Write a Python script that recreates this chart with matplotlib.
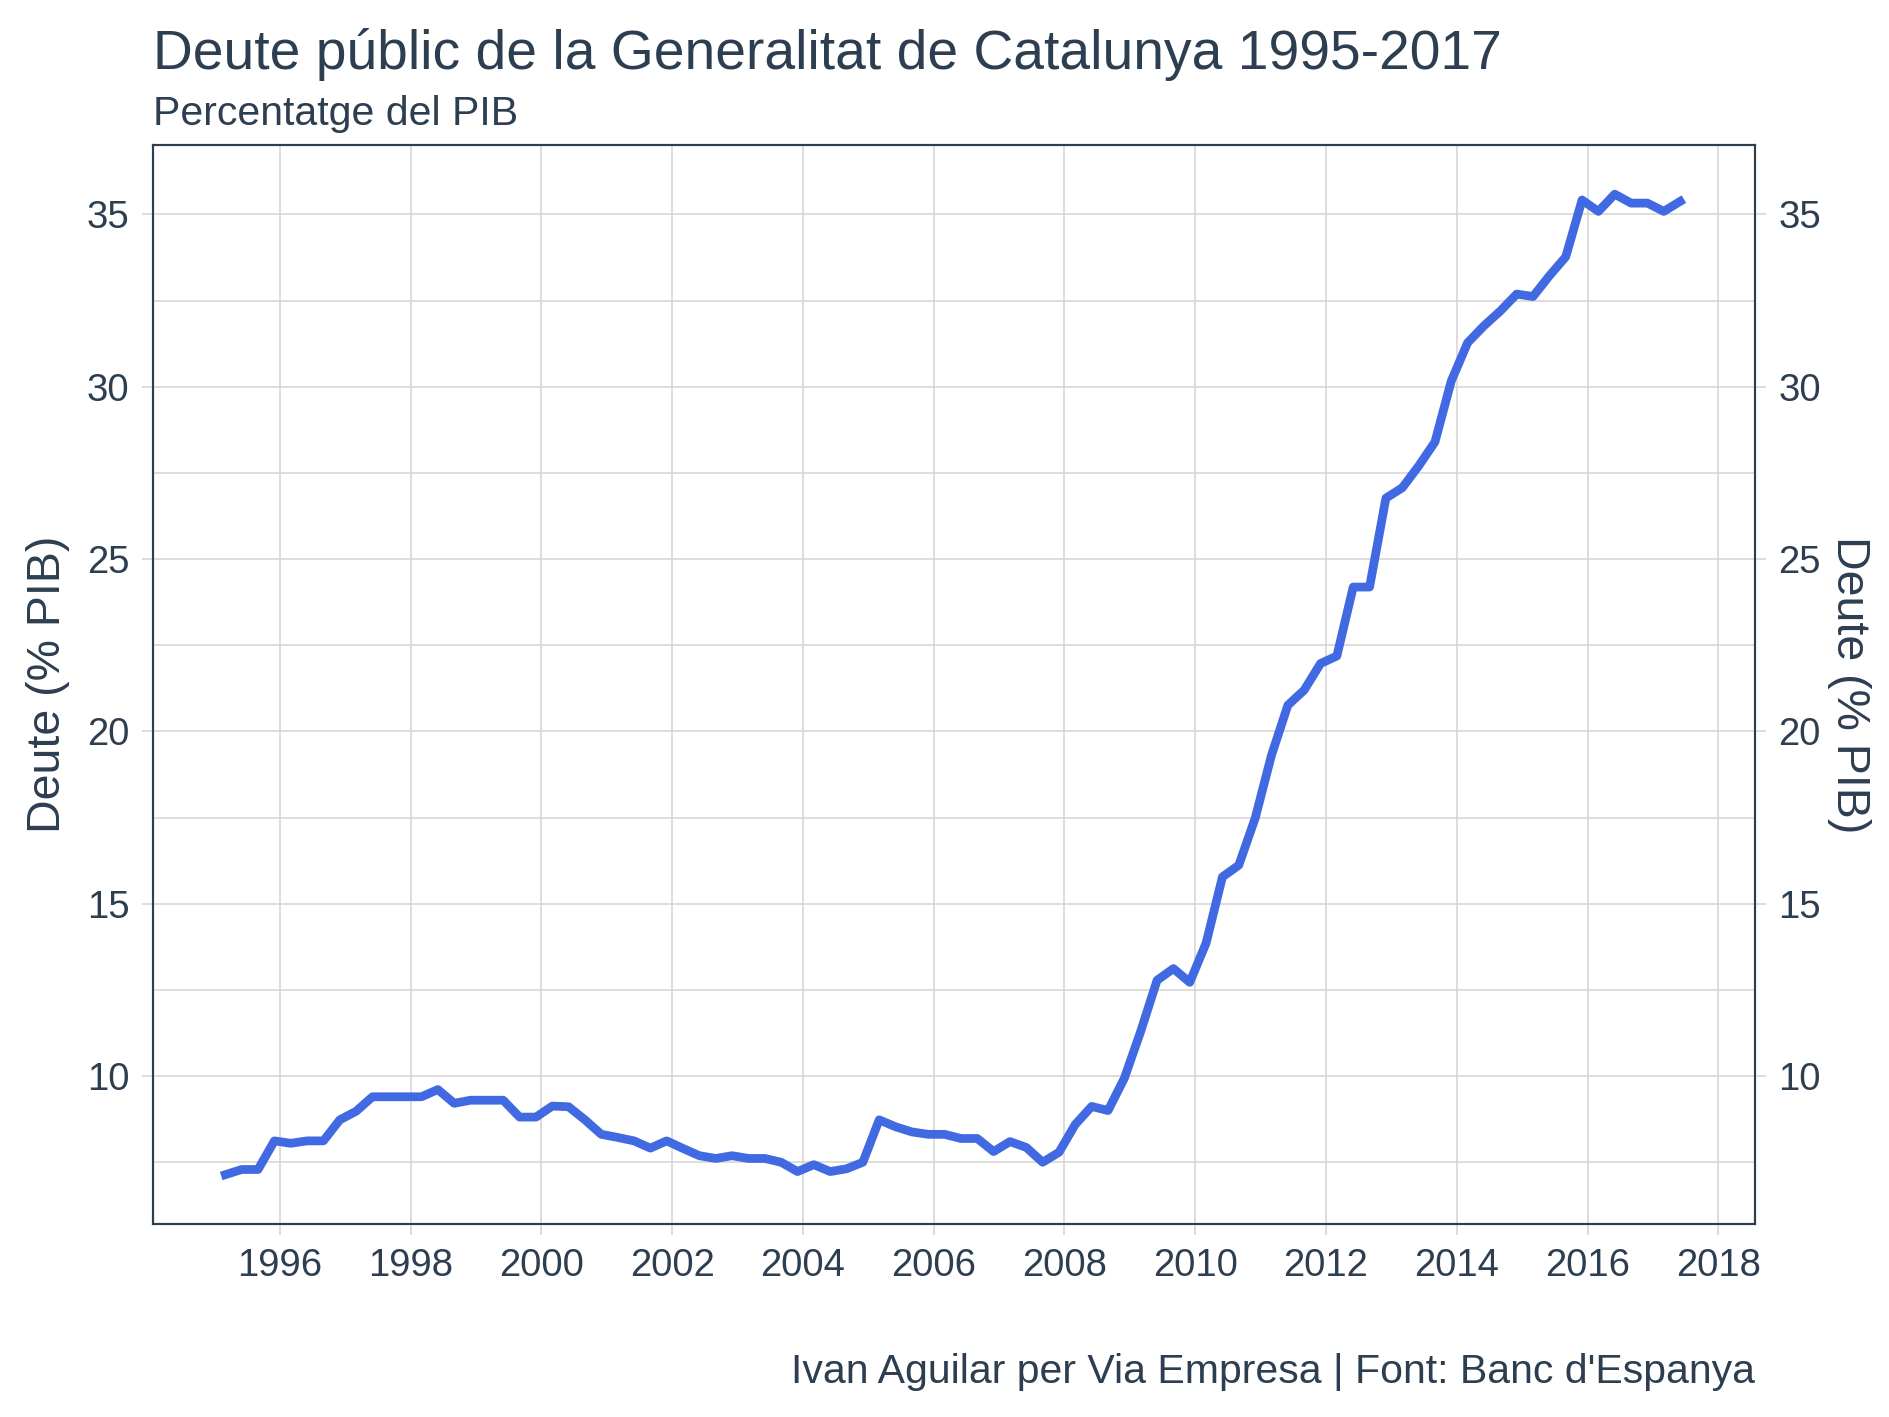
import matplotlib
matplotlib.use('Agg')
import matplotlib.pyplot as plt
import numpy as np

plt.rcParams['font.family'] = ['Liberation Sans', 'DejaVu Sans']

# Quarterly debt of the Generalitat, % of GDP, 1995Q1 - 2017Q2
years = list(range(1995, 2018))
deute = [
    7.14, 7.29, 7.29, 8.12,     # 1995
    8.05, 8.12, 8.12, 8.73,     # 1996
    8.98, 9.40, 9.40, 9.40,     # 1997
    9.40, 9.61, 9.21, 9.30,     # 1998
    9.30, 9.30, 8.81, 8.81,     # 1999
    9.13, 9.11, 8.73, 8.31,     # 2000
    8.22, 8.12, 7.91, 8.12,     # 2001
    7.90, 7.69, 7.61, 7.69,     # 2002
    7.61, 7.61, 7.50, 7.23,     # 2003
    7.43, 7.23, 7.31, 7.50,     # 2004
    8.73, 8.53, 8.38, 8.31,     # 2005
    8.31, 8.19, 8.19, 7.81,     # 2006
    8.10, 7.93, 7.50, 7.79,     # 2007
    8.60, 9.12, 9.00, 9.94,     # 2008
    11.3, 12.78, 13.12, 12.72,  # 2009
    13.86, 15.78, 16.12, 17.48, # 2010
    19.31, 20.76, 21.20, 21.97, # 2011
    22.19, 24.19, 24.19, 26.77, # 2012
    27.07, 27.70, 28.40, 30.17, # 2013
    31.28, 31.77, 32.20, 32.69, # 2014
    32.62, 33.22, 33.77, 35.42, # 2015
    35.09, 35.59, 35.33, 35.33, # 2016
    35.09, 35.38,               # 2017
]
# dates: first day of the last month of each quarter (Mar, Jun, Sep, Dec)
dates = [y + (q * 3 - 1) / 12 for y in years for q in range(1, 5)][:len(deute)]

x_ticks = list(range(1996, 2019, 2))
y_ticks = [10, 15, 20, 25, 30, 35]
y_minor = [7.5, 12.5, 17.5, 22.5, 27.5, 32.5]

txt = '#2C3E50'
grid = '#D3D3D3'

fig = plt.figure(figsize=(18.89, 14.17), dpi=100)
ax = fig.add_axes([0.081, 0.136, 0.848, 0.762])

ax.plot(dates, deute, color='royalblue', linewidth=6.3, solid_joinstyle='round')

ax.set_xlim(1994.06, 2018.56)
ax.set_ylim(5.70, 37.03)
ax.set_xticks(x_ticks)
ax.set_yticks(y_ticks)
ax.set_yticks(y_minor, minor=True)
ax.grid(True, which='major', color=grid, linewidth=1.1)
ax.grid(True, which='minor', axis='y', color=grid, linewidth=1.1)
ax.set_axisbelow(True)
for s in ax.spines.values():
    s.set_color(txt)
    s.set_linewidth(1.5)

ax.tick_params(axis='both', which='major', labelsize=27.5, colors=txt,
               length=8, width=1.1, pad=9)
ax.tick_params(axis='both', which='major', color=grid)
ax.tick_params(axis='y', which='minor', length=0)
ax.set_ylabel('Deute (% PIB)', fontsize=33.5, color=txt, labelpad=12)

ax2 = ax.twinx()
ax2.set_ylim(ax.get_ylim())
ax2.set_yticks(y_ticks)
ax2.tick_params(axis='y', labelsize=27.5, labelcolor=txt, color=grid,
                length=8, width=1.1, pad=9)
ax2.set_ylabel('Deute (% PIB)', fontsize=33.5, color=txt, rotation=-90,
               labelpad=36)
for s in ax2.spines.values():
    s.set_color(txt)
    s.set_linewidth(1.5)

fig.text(0.081, 0.951, 'Deute públic de la Generalitat de Catalunya 1995-2017',
         fontsize=39.7, color=txt, ha='left', va='baseline')
fig.text(0.081, 0.912, 'Percentatge del PIB', fontsize=29.5, color=txt,
         ha='left', va='baseline')
fig.text(0.929, 0.024, "Ivan Aguilar per Via Empresa | Font: Banc d'Espanya",
         fontsize=29.5, color=txt, ha='right', va='baseline')

fig.savefig('out.png', dpi=100)
